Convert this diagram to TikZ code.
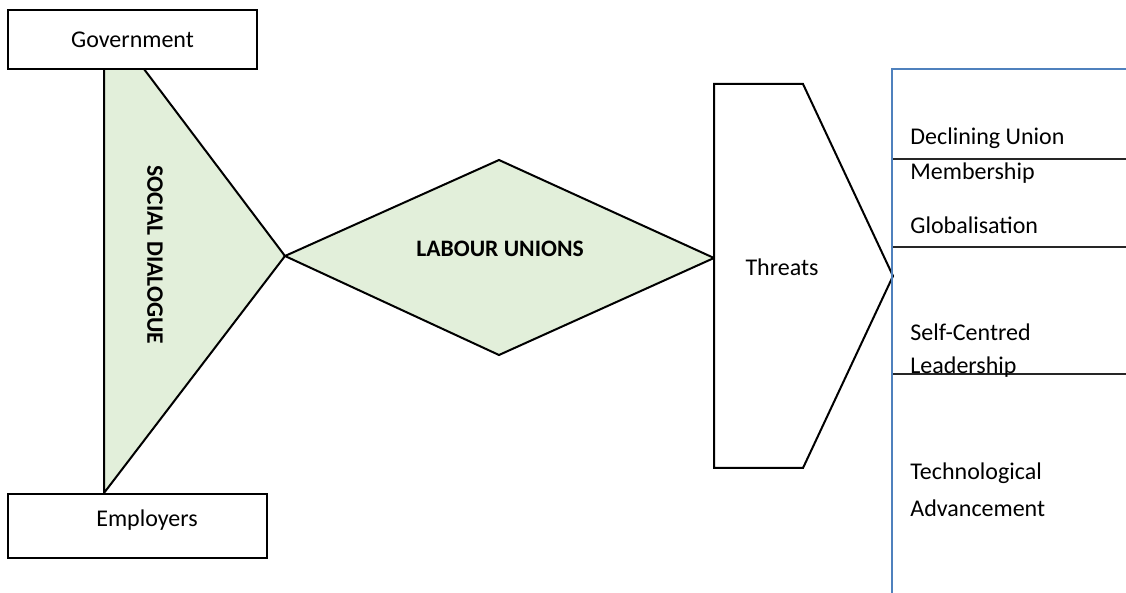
\documentclass[tikz,border=0pt]{standalone}
\usepackage{fontspec}
\setmainfont{Carlito}
\usetikzlibrary{calc}
\definecolor{leafgreen}{HTML}{E2EFDA}
\definecolor{rulerblue}{HTML}{4F81BD}
\tikzset{
  outline/.style={draw=black, line width=1pt, line join=miter},
  partybox/.style={outline, fill=white, inner sep=0pt},
  plain/.style={inner sep=0pt, font=\fontsize{12}{14}\selectfont},
  heading/.style={plain, font=\fontsize{11.8}{14}\selectfont\bfseries},
  threatline/.style={draw=black!85, line width=0.7pt}
}
\begin{document}
\begin{tikzpicture}[x=0.5pt, y=-0.5pt]
			%%%%% FRAME %%%%%
			\useasboundingbox (0, 0) rectangle (1126, 593);
			
			%%%%% SOCIAL DIALOGUE TRIANGLE %%%%%
			\coordinate (triTop) at (104, 16);
			\coordinate (triTip) at (285, 256);
			\coordinate (triBot) at (104, 493);
			\draw[outline, fill=leafgreen] (triTop) -- (triTip) -- (triBot) -- cycle;
			\node[heading, rotate=-90] (dialogue) at (155, 255) {SOCIAL DIALOGUE};
			
			\node[partybox, minimum width=124.5pt, minimum height=29.5pt,
			      plain] (gov) at (132.5, 39.5) {Government};
			\node[partybox, minimum width=129.5pt, minimum height=32pt] (emp) at (137.5, 526) {};
			\node[plain] (empText) at (147, 520) {Employers};
			
			%%%%% LABOUR UNIONS DIAMOND %%%%%
			\coordinate (dmTop) at (499, 160);
			\coordinate (dmRight) at (714, 258);
			\coordinate (dmBot) at (499, 355);
			\draw[outline, fill=leafgreen] (triTip) -- (dmTop) -- (dmRight) -- (dmBot) -- cycle;
			\node[heading] (unions) at (500, 249) {LABOUR UNIONS};
			
			%%%%% THREATS CHEVRON %%%%%
			\coordinate (thA) at (714, 84);
			\coordinate (thB) at (803, 84);
			\coordinate (thTip) at (893, 276);
			\coordinate (thC) at (803, 468);
			\coordinate (thD) at (714, 468);
			\draw[outline, fill=white] (thA) -- (thB) -- (thTip) -- (thC) -- (thD) -- cycle;
			\node[plain] (threats) at (782, 267) {Threats};
			
			%%%%% THREAT LIST %%%%%
			\coordinate (listTop) at (892, 69);
			\coordinate (listCorner) at (1126, 69);
			\coordinate (listBot) at (892, 593);
			\foreach \y/\n in {159/rowA, 247/rowB, 374/rowC}{
				\draw[threatline] (892, \y) coordinate (\n) -- (1126, \y);
			}
			\draw[draw=rulerblue, line width=1.4pt] (listBot) -- (listTop) -- (listCorner);
			
			\node[plain, anchor=west] (t1a) at (910, 138) {Declining Union};
			\node[plain, anchor=west] (t1b) at (910, 173) {Membership};
			\node[plain, anchor=west] (t2) at (910, 225) {Globalisation};
			\node[plain, anchor=west] (t3a) at (910, 332) {Self-Centred};
			\node[plain, anchor=west] (t3b) at (910, 367) {Leadership};
			\node[plain, anchor=west] (t4a) at (910, 473) {Technological};
			\node[plain, anchor=west] (t4b) at (910, 508) {Advancement};
			%%%%% END %%%%%
\end{tikzpicture}
\end{document}
